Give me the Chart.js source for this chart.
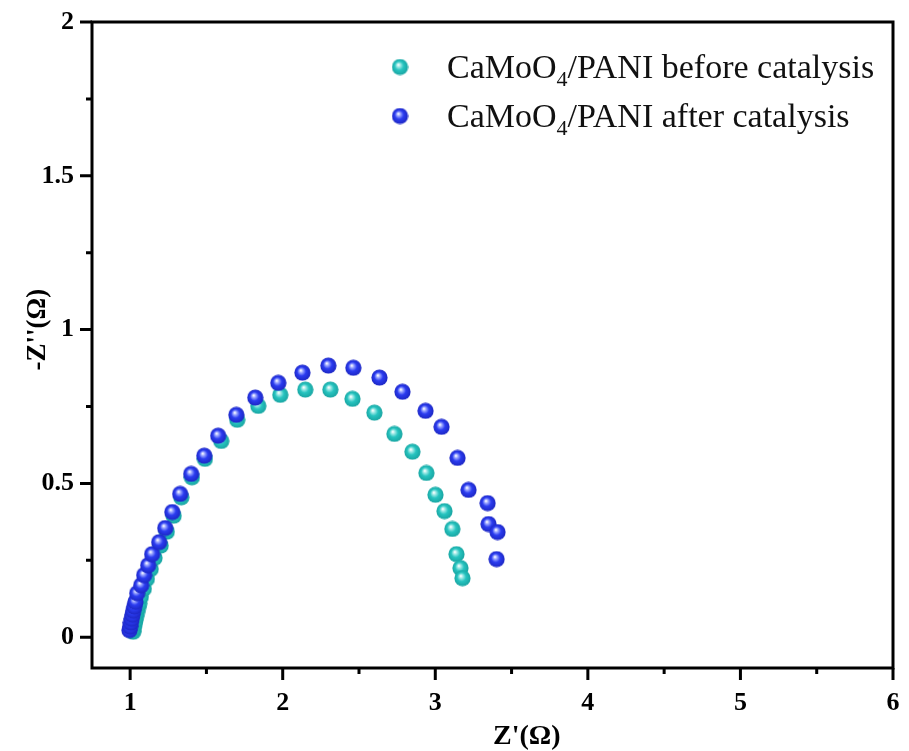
<!DOCTYPE html>
<html>
<head>
<meta charset="utf-8">
<title>Nyquist plot</title>
<script src="https://cdn.jsdelivr.net/npm/chart.js@4.4.1/dist/chart.umd.min.js"></script>
<style>
  html, body { margin: 0; padding: 0; background: #ffffff; }
  #wrap { width: 909px; height: 751px; position: relative; }
</style>
</head>
<body>
<div id="wrap"><canvas id="c"></canvas></div>
<script>
// Z' (x) and -Z'' (y), in ohm
const beforeX = [1.02, 1.025, 1.03, 1.035, 1.04, 1.045, 1.052, 1.06, 1.07, 1.09, 1.11, 1.135, 1.16, 1.2, 1.24, 1.285, 1.335, 1.405, 1.49, 1.597, 1.702, 1.84, 1.984, 2.148, 2.312, 2.457, 2.601, 2.732, 2.85, 2.942, 3.001, 3.06, 3.112, 3.139, 3.165, 3.178];
const beforeY = [0.018, 0.03, 0.043, 0.056, 0.069, 0.082, 0.096, 0.11, 0.132, 0.158, 0.19, 0.222, 0.258, 0.298, 0.343, 0.395, 0.455, 0.52, 0.58, 0.638, 0.707, 0.752, 0.788, 0.805, 0.805, 0.775, 0.73, 0.661, 0.603, 0.534, 0.463, 0.41, 0.352, 0.27, 0.225, 0.192];
const afterX = [0.995, 1.0, 1.005, 1.01, 1.015, 1.02, 1.027, 1.035, 1.046, 1.072, 1.092, 1.118, 1.144, 1.19, 1.23, 1.276, 1.328, 1.4, 1.486, 1.577, 1.696, 1.82, 1.971, 2.129, 2.299, 2.463, 2.634, 2.785, 2.936, 3.041, 3.146, 3.218, 3.343, 3.349, 3.408, 3.402];
const afterY = [0.023, 0.035, 0.048, 0.06, 0.073, 0.086, 0.1, 0.115, 0.143, 0.169, 0.202, 0.234, 0.27, 0.309, 0.355, 0.407, 0.466, 0.531, 0.59, 0.655, 0.723, 0.779, 0.827, 0.86, 0.883, 0.876, 0.844, 0.798, 0.736, 0.684, 0.583, 0.479, 0.436, 0.368, 0.342, 0.254];

// axis ticks
const xMajor = [1, 2, 3, 4, 5, 6];
const xMinor = [1.5, 2.5, 3.5, 4.5, 5.5];
const yMajor = [0, 0.5, 1, 1.5, 2];
const yMinor = [0.25, 0.75, 1.25, 1.75];
const yTickLabels = ['0', '0.5', '1', '1.5', '2'];

// axis titles
const xTitle = "Z'(Ω)";
const yTitle = "-Z''(Ω)";

// legend entries: [main, subscript, rest]
const labelBefore = ['CaMoO', '4', '/PANI before catalysis'];
const labelAfter = ['CaMoO', '4', '/PANI after catalysis'];

const SERIF = "'Liberation Serif', 'Times New Roman', serif";

// shaded sphere used as the point marker
function ball(light, base, dark) {
  const c = document.createElement('canvas');
  c.width = 17; c.height = 17;
  const g = c.getContext('2d');
  const grd = g.createRadialGradient(6.8, 6.2, 0.3, 8.5, 8.5, 8.5);
  grd.addColorStop(0, '#ffffff');
  grd.addColorStop(0.2, light);
  grd.addColorStop(0.5, base);
  grd.addColorStop(1, dark);
  g.fillStyle = grd;
  g.beginPath();
  g.arc(8.5, 8.5, 8.1, 0, Math.PI * 2);
  g.fill();
  return c;
}
const cyanBall = ball('#9ee9e6', '#27c4c0', '#17a29f');
const blueBall = ball('#9aa6ff', '#2b3cf0', '#1b25c0');

function pts(xs, ys) { return xs.map((x, i) => ({ x: x, y: ys[i] })); }

// frame with outward major/minor ticks, plus both axis titles
const framePlugin = {
  id: 'frame',
  afterDraw(chart) {
    const { ctx, chartArea: a } = chart;
    const xs = chart.scales.x, ys = chart.scales.y;
    ctx.save();
    ctx.strokeStyle = '#000';
    ctx.lineWidth = 3;
    ctx.lineCap = 'butt';
    ctx.beginPath();
    xMajor.forEach(v => { const p = xs.getPixelForValue(v); ctx.moveTo(p, a.bottom); ctx.lineTo(p, a.bottom + 12); });
    xMinor.forEach(v => { const p = xs.getPixelForValue(v); ctx.moveTo(p, a.bottom); ctx.lineTo(p, a.bottom + 6); });
    yMajor.forEach(v => { const p = ys.getPixelForValue(v); ctx.moveTo(a.left, p); ctx.lineTo(a.left - 12, p); });
    yMinor.forEach(v => { const p = ys.getPixelForValue(v); ctx.moveTo(a.left, p); ctx.lineTo(a.left - 6, p); });
    ctx.stroke();
    ctx.strokeRect(a.left, a.top, a.right - a.left, a.bottom - a.top);

    ctx.fillStyle = '#000';
    ctx.font = 'bold 28px ' + SERIF;
    ctx.textAlign = 'center';
    ctx.textBaseline = 'middle';
    ctx.fillText(xTitle, xs.getPixelForValue(3.6), 737);

    ctx.translate(38, ys.getPixelForValue(1));
    ctx.rotate(-Math.PI / 2);
    ctx.font = 'bold 27px ' + SERIF;
    ctx.fillText(yTitle, 0, 0);
    ctx.restore();
  }
};

// legend with subscripted formula
const legendPlugin = {
  id: 'formulaLegend',
  afterDraw(chart) {
    const ctx = chart.ctx;
    const rows = [[cyanBall, labelBefore, 67], [blueBall, labelAfter, 116]];
    ctx.save();
    ctx.fillStyle = '#111';
    ctx.textBaseline = 'alphabetic';
    ctx.textAlign = 'left';
    rows.forEach(([img, parts, cy]) => {
      ctx.drawImage(img, 400 - 8.5, cy - 8.5);
      let x = 447;
      const base = cy + 11;
      ctx.font = '34px ' + SERIF;
      ctx.fillText(parts[0], x, base);
      x += ctx.measureText(parts[0]).width;
      ctx.font = '22px ' + SERIF;
      ctx.fillText(parts[1], x, base + 8);
      x += ctx.measureText(parts[1]).width;
      ctx.font = '34px ' + SERIF;
      ctx.fillText(parts[2], x, base);
    });
    ctx.restore();
  }
};

const tickFont = { family: SERIF, size: 26, weight: 'bold' };

new Chart(document.getElementById('c'), {
  type: 'scatter',
  data: {
    datasets: [
      { label: 'CaMoO4/PANI before catalysis', data: pts(beforeX, beforeY), pointStyle: cyanBall, order: 2 },
      { label: 'CaMoO4/PANI after catalysis', data: pts(afterX, afterY), pointStyle: blueBall, order: 1 }
    ]
  },
  options: {
    responsive: true,
    maintainAspectRatio: false,
    animation: false,
    events: [],
    layout: { padding: { top: 22, right: 16, left: 0, bottom: 0 } },
    plugins: { legend: { display: false }, tooltip: { enabled: false } },
    scales: {
      x: {
        type: 'linear', min: 0.75, max: 6,
        afterBuildTicks: s => { s.ticks = xMajor.map(v => ({ value: v })); },
        afterFit: s => { s.height = 83; s.paddingLeft = 0; s.paddingRight = 0; },
        grid: { display: false, drawTicks: false },
        border: { display: false },
        ticks: { font: tickFont, color: '#000', padding: 20, maxRotation: 0 },
        title: { display: false }
      },
      y: {
        type: 'linear', min: -0.1, max: 2,
        afterBuildTicks: s => { s.ticks = yMajor.map(v => ({ value: v })); },
        afterFit: s => { s.width = 92; s.paddingTop = 0; s.paddingBottom = 0; },
        grid: { display: false, drawTicks: false },
        border: { display: false },
        ticks: {
          font: tickFont, color: '#000', padding: 18,
          callback: (v) => { const i = yMajor.indexOf(v); return i >= 0 ? yTickLabels[i] : ''; }
        },
        title: { display: false }
      }
    }
  },
  plugins: [framePlugin, legendPlugin]
});
</script>
</body>
</html>
